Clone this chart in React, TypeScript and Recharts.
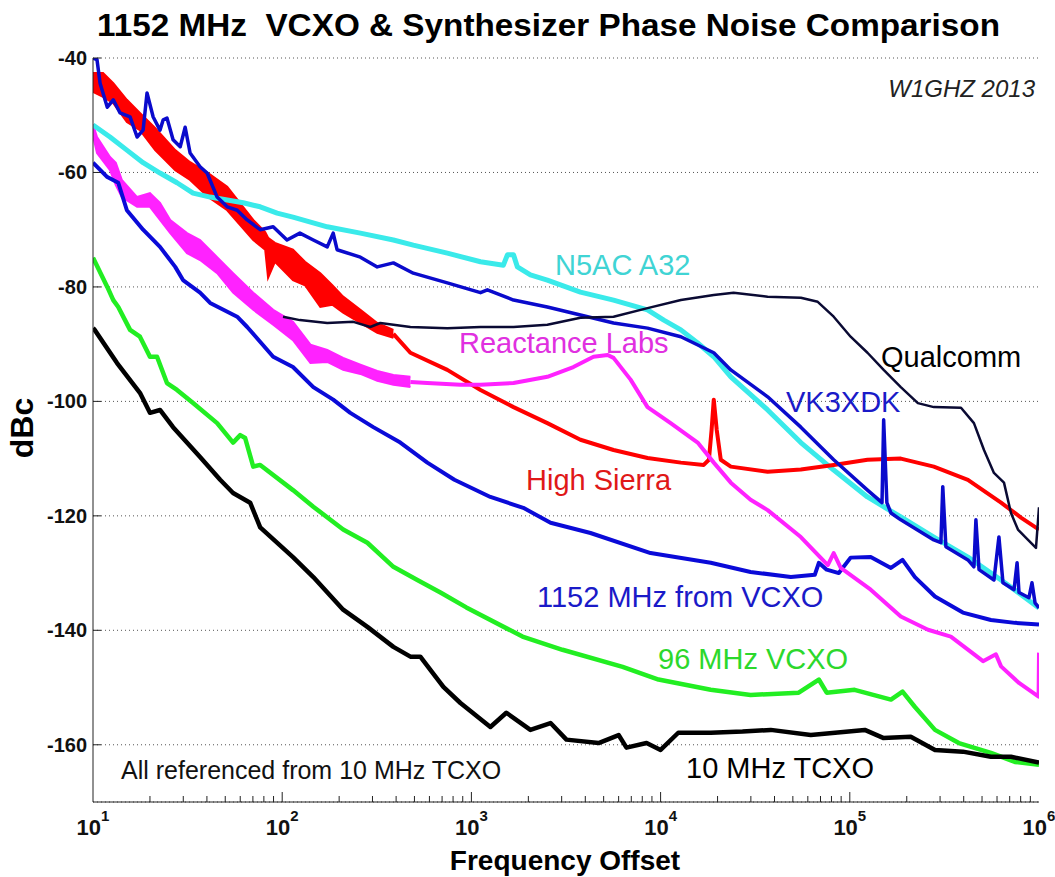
import React from 'react';
import { ComposedChart, Line, Area, XAxis, YAxis, CartesianGrid } from 'recharts';

type P = [number, number];
type B = [number, number, number];

// ---- series values: [frequency offset (Hz), dBc] ----
const TCXO_10MHZ: P[] = [
  [10, -87.2], [10.2, -87.5], [13.4, -93.3], [17.7, -98.5], [20, -102], [22.6, -101.5], [26.5, -104.5],
  [36.8, -109.7], [47, -113.7], [55, -116], [67.7, -117.7], [76.5, -122], [114, -127.2], [146, -130.7],
  [210, -136.4], [282, -139.4], [387, -142.9], [476, -144.6], [537, -144.6], [607, -146.9], [711, -149.9],
  [875, -152.7], [1260, -156.9], [1530, -154.4], [2050, -157.4], [2620, -156.2], [3180, -159.1],
  [4700, -159.7], [6000, -158.3], [6600, -160.5], [8430, -159.7], [10000, -160.9], [12400, -157.9],
  [18400, -157.9], [27100, -157.7], [38200, -157.4], [62200, -158.3], [120000, -157.4], [150000, -158.8],
  [210000, -158.6], [282000, -160.9], [396000, -161.2], [557000, -162.1], [711000, -162.1], [1000000, -163.1],
];

const VCXO_96MHZ: P[] = [
  [10, -74.9], [11.9, -80], [12.8, -82.3], [13.6, -83.5], [15.7, -87.5], [17.7, -88.7], [20, -92.2],
  [21.8, -92.2], [24.6, -96.8], [27.8, -98], [33.8, -100.3], [45.3, -103.8], [55, -107.2], [60, -105.9],
  [63.7, -106.4], [70.3, -111.4], [76.5, -111.1], [114, -115.5], [146, -118.4], [210, -122.4],
  [282, -124.7], [387, -128.9], [518, -131.2], [686, -133.4], [940, -136], [1862, -141.1], [3030, -143.4],
  [6300, -146.4], [9750, -148.6], [18400, -150.4], [29900, -151.3], [53700, -150.9], [68600, -148.6],
  [75500, -150.9], [106000, -150.4], [165000, -152.1], [190000, -150.7], [221000, -153.4], [282000, -157.4],
  [377000, -159.7], [557000, -161.4], [746000, -163], [1000000, -163.5],
];

const VCXO_1152MHZ: P[] = [
  [10, -58.3], [11.9, -60.8], [13.6, -61.8], [15.1, -66.6], [18.4, -70], [22.6, -73], [27.2, -76.5],
  [29.9, -78.8], [36.8, -81], [41.6, -82.8], [57.8, -85.2], [65.3, -87], [89.6, -92.2], [114, -94],
  [146, -97.5], [186, -99.7], [229, -102], [303, -104.5], [421, -107.2], [585, -110.7], [813, -113.7],
  [1260, -116.7], [1880, -118.6], [2620, -121.2], [4260, -123], [8850, -126.5], [18400, -128.2],
  [29900, -129.8], [48800, -130.7], [65300, -130.3], [68600, -128.2], [75500, -129.4], [87500, -130],
  [101000, -127.3], [129000, -127.2], [165000, -129.1], [190000, -127.7], [221000, -130.7],
  [282000, -134.1], [396000, -136.9], [557000, -138.2], [746000, -138.7], [1000000, -139],
];

// noisy low-offset part drawn as a band: [f, low, high]
const REACTANCE_BAND: B[] = [
  [10, -53.6, -51.6], [10.5, -56.6, -53.8], [12.3, -59.6, -57.3], [13.2, -62.2, -58.3], [14.2, -64.3, -61.3],
  [17.1, -66, -64.3], [20, -66, -63.6], [22.6, -68.3, -65.3], [25.6, -70.6, -68.3], [31.4, -74.1, -70.6],
  [36.8, -75.3, -71.8], [45.3, -77.6, -74.8], [55, -81, -77.6], [70.3, -84, -81], [89.6, -86.6, -84],
  [114, -89.3, -86.1], [141, -93.3, -90.1], [173, -93.1, -91], [210, -94.5, -92.4], [259, -95.2, -93.6],
  [318, -96.4, -94.7], [387, -97.1, -95.4], [476, -97.5, -95.7],
];

const REACTANCE_LABS: P[] = [
  [476, -96.6], [585, -96.8], [875, -97.1], [1117, -97.1], [1670, -96.8], [2520, -95.7], [3460, -94],
  [4420, -92.2], [5250, -91.9], [5640, -92.4], [6940, -96.2], [8530, -101], [11300, -103.8], [15700, -107.2],
  [19100, -110.7], [23500, -114.2], [29900, -117.2], [36800, -119], [55100, -123.7], [76500, -128.6],
  [82200, -126.5], [89600, -129.1], [129000, -132.9], [186000, -137.6], [259000, -139.9], [342000, -141.1],
  [506000, -145.4], [592000, -144.2], [630000, -146.3], [784000, -149.2], [995000, -151.6], [1000000, -143.9],
];

const HIGH_SIERRA_BAND: B[] = [
  [10, -45.9, -42.6], [11.3, -46.8, -42.6], [12.8, -47.9, -44.4], [15.1, -51.2, -47.3], [17.7, -52.6, -49.6],
  [21.3, -56.1, -52.2], [27.2, -59.6, -56.1], [32.6, -61.3, -58.2], [40.6, -64.3, -60.1], [51.2, -66.6, -62.5],
  [70.3, -71.8, -68.3], [81.3, -73.5, -70.4], [84.2, -78.4, -71.4], [91.5, -75.6, -72.3], [114, -78.8, -73.5],
  [132, -79.7, -75.6], [159, -83.5, -77.6], [184, -83.1, -79.7], [210, -84.5, -81.7], [259, -86.3, -84],
  [318, -88, -86.3], [387, -88.9, -87.5],
];

const HIGH_SIERRA: P[] = [
  [387, -88.2], [476, -91.5], [746, -94.5], [1117, -98], [1670, -101], [2520, -103.8], [3770, -106.7],
  [5640, -108.5], [8530, -109.9], [12800, -110.7], [16900, -111.1], [18000, -110.2], [18600, -105],
  [19100, -99.7], [19800, -105], [20800, -110.2], [23500, -111.4], [36800, -112.3], [55100, -111.9],
  [82200, -111.1], [124000, -110.2], [186000, -110], [278000, -111.4], [421000, -113.7], [630000, -117.7],
  [803000, -120.3], [1000000, -122.4],
];

const N5AC_A32: P[] = [
  [10, -51.7], [12.3, -53.8], [15.1, -56.1], [18.4, -58.3], [22.6, -60.1], [27.8, -61.8], [33.8, -63.6],
  [41.6, -64.3], [51.2, -64.8], [62.2, -65.3], [76.5, -66], [94, -67.1], [114, -67.8], [173, -69.5],
  [259, -70.6], [387, -71.8], [493, -72.7], [746, -74.1], [1117, -75.6], [1476, -76.2], [1550, -74.4],
  [1670, -74.4], [1750, -76.5], [2050, -77.9], [2520, -78.8], [3770, -80.9], [5640, -82.3], [8530, -84],
  [10400, -85.8], [12800, -87.5], [15700, -89.8], [19100, -92.2], [23500, -95.7], [36800, -101.5],
  [55100, -107.2], [82200, -112], [124000, -116.7], [186000, -120.2], [278000, -123.7], [421000, -127.2],
  [630000, -131.2], [1000000, -136.1],
];

const VK3XDK: P[] = [
  [10, -40], [10.5, -40.3], [10.9, -44.4], [11.9, -48.6], [12.8, -47.3], [13.9, -49.6], [15.7, -50.3],
  [17.1, -53.8], [18.4, -52.6], [19.3, -46.1], [20.8, -50.3], [22.6, -52.6], [23.5, -50.8], [24.6, -50.5],
  [26.5, -54.3], [28.9, -55.5], [30.7, -52.1], [32.6, -56.6], [36.8, -59], [40.1, -60.1], [45.3, -64.3],
  [51.2, -66], [57.8, -66.6], [65.3, -68.3], [76.5, -70], [89.6, -69.5], [106, -71.8], [124, -70.6],
  [146, -71.8], [173, -73], [186, -70.6], [195, -73.5], [259, -74.8], [318, -76.5], [387, -75.8],
  [493, -77.6], [746, -79.3], [1117, -81], [1215, -80.5], [1670, -82.3], [2520, -83.5], [3770, -84.9],
  [5640, -86.3], [8530, -87.2], [12800, -88.7], [19100, -91.5], [23500, -94.5], [36800, -99.2],
  [55100, -104.5], [82200, -110.2], [124000, -115.5], [148000, -117.7], [151000, -103.2], [157000, -117.7],
  [165000, -119.5], [186000, -120.7], [278000, -124.2], [303000, -124.7], [310000, -114.9], [322000, -125.4],
  [421000, -127.7], [453000, -128.9], [464000, -120.7], [482000, -129.4], [578000, -131.2], [614000, -123.7],
  [645000, -131.7], [738000, -132.9], [766000, -128.2], [784000, -133.4], [885000, -134.3], [918000, -131.7],
  [953000, -135.2], [1000000, -136.1],
];

const QUALCOMM: P[] = [
  [101, -85.2], [124, -85.8], [173, -86.3], [238, -86.1], [292, -87], [330, -86.3], [476, -87], [746, -87.2],
  [1117, -87], [1670, -87], [2520, -86.6], [3770, -85.4], [5640, -85.2], [8530, -83.7], [12800, -82.3],
  [19100, -81.4], [24300, -81], [36800, -81.7], [55100, -81.9], [67700, -82.6], [82200, -85.2],
  [101000, -88.7], [124000, -91.5], [151000, -94.5], [186000, -97.5], [229000, -100.3], [278000, -101],
  [387000, -101.1], [453000, -103.8], [512000, -108.5], [578000, -112.5], [653000, -114.2], [711000, -119.5],
  [774000, -122.4], [875000, -124.2], [964000, -125.6], [1000000, -118.5],
];

// ---- axes ----
const X_TICKS = [
  10, 20, 30, 40, 50, 60, 70, 80, 90,
  100, 200, 300, 400, 500, 600, 700, 800, 900,
  1000, 2000, 3000, 4000, 5000, 6000, 7000, 8000, 9000,
  10000, 20000, 30000, 40000, 50000, 60000, 70000, 80000, 90000,
  100000, 200000, 300000, 400000, 500000, 600000, 700000, 800000, 900000,
  1000000,
];
const DECADE_LABELS: Record<number, string> = { 10: '1', 100: '2', 1000: '3', 10000: '4', 100000: '5', 1000000: '6' };
const Y_TICKS = [-160, -140, -120, -100, -80, -60, -40];
const X_DOMAIN: [number, number] = [10, 1000000];
const Y_DOMAIN: [number, number] = [-170, -40];

const FONT = "'Liberation Sans', Arial, sans-serif";

const toRows = (s: P[]) => s.map(([f, v]) => ({ f, v }));
const toBand = (s: B[]) => s.map(([f, lo, hi]) => ({ f, band: [lo, hi] }));

const isDecade = (v: number) => DECADE_LABELS[v] !== undefined;

const BottomTick = (props: any) => {
  const { x, y, payload } = props;
  const v = payload.value;
  const major = isDecade(v);
  const edge = v === X_DOMAIN[0] || v === X_DOMAIN[1];
  return (
    <g>
      {!edge && <line x1={x} x2={x} y1={y} y2={y - (major ? 10 : 6)} stroke="#222" strokeWidth={1} />}
      {major && (
        <text x={x} y={y + 33} textAnchor="middle" fontFamily={FONT} fontWeight="bold" fontSize={22} fill="#111">
          10<tspan dy={-14} fontSize={15}>{DECADE_LABELS[v]}</tspan>
        </text>
      )}
    </g>
  );
};

const TopTick = (props: any) => {
  const { x, y, payload } = props;
  const v = payload.value;
  const major = isDecade(v);
  const edge = v === X_DOMAIN[0] || v === X_DOMAIN[1];
  if (edge) return <g />;
  return <line x1={x} x2={x} y1={y} y2={y + (major ? 10 : 6)} stroke="#222" strokeWidth={1} />;
};

const LeftTick = (props: any) => {
  const { x, y, payload } = props;
  return (
    <g>
      <line x1={x} x2={x + 8} y1={y} y2={y} stroke="#222" strokeWidth={1} />
      <text x={x - 6} y={y + 7} textAnchor="end" fontFamily={FONT} fontWeight="bold" fontSize={20} fill="#111">
        {payload.value}
      </text>
    </g>
  );
};

const RightTick = (props: any) => {
  const { x, y } = props;
  return <line x1={x} x2={x - 8} y1={y} y2={y} stroke="#222" strokeWidth={1} />;
};

export default function App() {
  const W = 1055;
  const H = 877;
  return (
    <div style={{ position: 'absolute', left: 0, top: 0, width: W, height: H, background: '#fff' }}>
      <ComposedChart width={W} height={H} margin={{ top: 58, right: 16, bottom: 35, left: 33 }}>
        <CartesianGrid vertical={false} stroke="#555" strokeDasharray="1 3" />
        <XAxis
          dataKey="f" type="number" scale="log" domain={X_DOMAIN} ticks={X_TICKS} interval={0}
          allowDataOverflow height={40} tickSize={0} tickMargin={0} tickLine={false}
          axisLine={{ stroke: '#222' }} tick={(p: any) => <BottomTick {...p} />}
        />
        <XAxis
          xAxisId="top" orientation="top" dataKey="f" type="number" scale="log" domain={X_DOMAIN}
          ticks={X_TICKS} interval={0} allowDataOverflow height={0} tickSize={0} tickMargin={0}
          tickLine={false} axisLine={{ stroke: '#222' }} tick={(p: any) => <TopTick {...p} />}
        />
        <YAxis
          type="number" domain={Y_DOMAIN} ticks={Y_TICKS} interval={0} allowDataOverflow width={60}
          tickSize={0} tickMargin={0} tickLine={false} axisLine={{ stroke: '#222' }}
          tick={(p: any) => <LeftTick {...p} />}
        />
        <YAxis
          yAxisId="right" orientation="right" type="number" domain={Y_DOMAIN} ticks={Y_TICKS} interval={0}
          allowDataOverflow width={0} tickSize={0} tickMargin={0} tickLine={false}
          axisLine={{ stroke: '#222' }} tick={(p: any) => <RightTick {...p} />}
        />

        <Line data={toRows(N5AC_A32)} dataKey="v" type="linear" stroke="#3AEAEA" strokeWidth={5} dot={false}
          isAnimationActive={false} strokeLinejoin="round" />
        <Line data={toRows(VCXO_96MHZ)} dataKey="v" type="linear" stroke="#22EE22" strokeWidth={4.5} dot={false}
          isAnimationActive={false} strokeLinejoin="round" />
        <Line data={toRows(TCXO_10MHZ)} dataKey="v" type="linear" stroke="#000000" strokeWidth={4.5} dot={false}
          isAnimationActive={false} strokeLinejoin="round" />
        <Line data={toRows(VCXO_1152MHZ)} dataKey="v" type="linear" stroke="#0A0AD8" strokeWidth={4} dot={false}
          isAnimationActive={false} strokeLinejoin="round" />
        <Area data={toBand(HIGH_SIERRA_BAND)} dataKey="band" type="linear" stroke="#FF0000" strokeWidth={2}
          fill="#FF0000" fillOpacity={1} dot={false} activeDot={false} isAnimationActive={false} />
        <Line data={toRows(HIGH_SIERRA)} dataKey="v" type="linear" stroke="#FF0000" strokeWidth={4} dot={false}
          isAnimationActive={false} strokeLinejoin="round" />
        <Area data={toBand(REACTANCE_BAND)} dataKey="band" type="linear" stroke="#FF22FF" strokeWidth={2}
          fill="#FF22FF" fillOpacity={1} dot={false} activeDot={false} isAnimationActive={false} />
        <Line data={toRows(REACTANCE_LABS)} dataKey="v" type="linear" stroke="#FF22FF" strokeWidth={4} dot={false}
          isAnimationActive={false} strokeLinejoin="round" />
        <Line data={toRows(VK3XDK)} dataKey="v" type="linear" stroke="#0A0ACC" strokeWidth={3.5} dot={false}
          isAnimationActive={false} strokeLinejoin="round" />
        <Line data={toRows(QUALCOMM)} dataKey="v" type="linear" stroke="#0A0A33" strokeWidth={2.5} dot={false}
          isAnimationActive={false} strokeLinejoin="round" />
      </ComposedChart>

      <svg width={W} height={H} style={{ position: 'absolute', left: 0, top: 0, pointerEvents: 'none' }}>
        <text x={97} y={36} fontFamily={FONT} fontWeight="bold" fontSize={32} fill="#000"
          textLength={903} lengthAdjust="spacingAndGlyphs" xmlSpace="preserve" style={{ whiteSpace: 'pre' }}>
          {'1152 MHz  VCXO & Synthesizer Phase Noise Comparison'}
        </text>
        <text x={1035} y={97} textAnchor="end" fontFamily={FONT} fontStyle="italic" fontSize={24} fill="#222">
          W1GHZ 2013
        </text>
        <text x={555} y={275} fontFamily={FONT} fontSize={29} fill="#40D4D4">N5AC A32</text>
        <text x={459} y={353} fontFamily={FONT} fontSize={29} fill="#E030E0">Reactance Labs</text>
        <text x={881} y={367} fontFamily={FONT} fontSize={29} fill="#000">Qualcomm</text>
        <text x={786} y={412} fontFamily={FONT} fontSize={29} fill="#1A1AC8">VK3XDK</text>
        <text x={526} y={490} fontFamily={FONT} fontSize={29} fill="#E01818">High Sierra</text>
        <text x={537} y={607} fontFamily={FONT} fontSize={29} fill="#1A1AC8">1152 MHz from VCXO</text>
        <text x={658} y={669} fontFamily={FONT} fontSize={29} fill="#2CD82C">96 MHz VCXO</text>
        <text x={686} y={778} fontFamily={FONT} fontSize={29} fill="#000">10 MHz TCXO</text>
        <text x={121} y={779} fontFamily={FONT} fontSize={25} fill="#111">All referenced from 10 MHz TCXO</text>
        <text x={565} y={870} textAnchor="middle" fontFamily={FONT} fontWeight="bold" fontSize={28} fill="#000">
          Frequency Offset
        </text>
        <text transform="translate(33,428) rotate(-90)" textAnchor="middle" fontFamily={FONT} fontWeight="bold"
          fontSize={32} fill="#000">
          dBc
        </text>
      </svg>
    </div>
  );
}
